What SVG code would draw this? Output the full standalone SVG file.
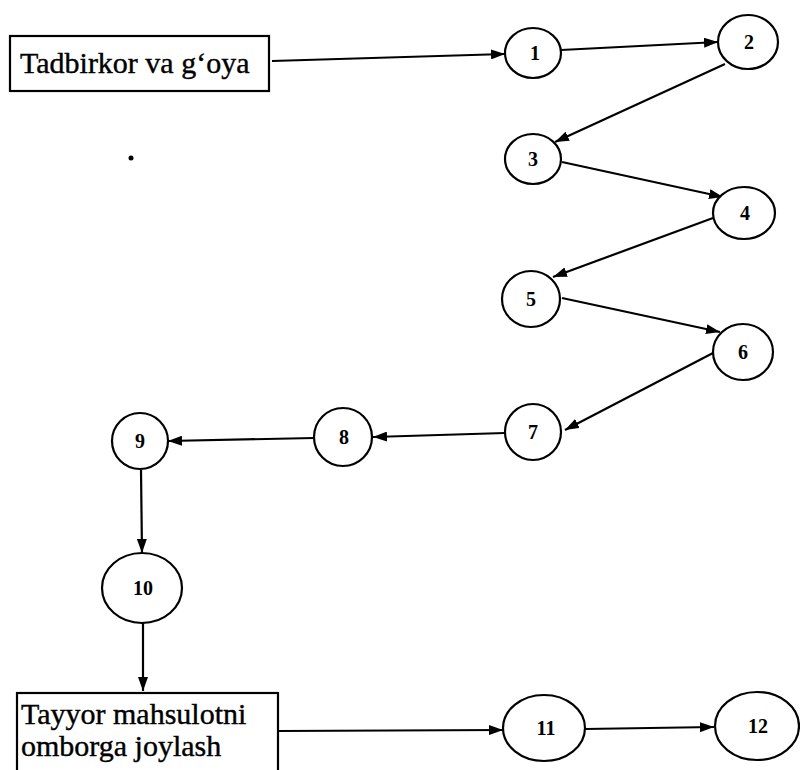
<svg xmlns="http://www.w3.org/2000/svg" width="800" height="770" viewBox="0 0 800 770">
<defs>
<marker id="arr" viewBox="0 0 14 10" refX="14" refY="5" markerWidth="14" markerHeight="10" markerUnits="userSpaceOnUse" orient="auto">
<path d="M0,0 L14,5 L0,10 z" fill="#000"/>
</marker>
<style>
.n ellipse{fill:#fff;stroke:#000;stroke-width:2.2}
.n text{font-family:"Liberation Serif","Times New Roman",serif;font-size:20px;font-weight:bold;text-anchor:middle;fill:#000}
.b rect{fill:#fff;stroke:#000;stroke-width:2.2}
.b text{font-family:"Liberation Serif","Times New Roman",serif;font-size:30px;fill:#000;stroke:#000;stroke-width:0.4}
#edges line{stroke:#000;stroke-width:2.2;marker-end:url(#arr)}
</style>
</defs>
<rect width="800" height="770" fill="#fff"/>
<circle cx="131" cy="158" r="2.5" fill="#000"/>
<g id="edges">
<line x1="272" y1="61" x2="505" y2="54"/>
<line x1="561" y1="50" x2="718" y2="42"/>
<line x1="725" y1="64" x2="555" y2="142"/>
<line x1="562" y1="162" x2="723" y2="197"/>
<line x1="713" y1="218" x2="553" y2="277"/>
<line x1="562" y1="298" x2="720" y2="332"/>
<line x1="713" y1="353" x2="565" y2="430"/>
<line x1="505" y1="433" x2="373" y2="437"/>
<line x1="314" y1="438" x2="168" y2="441"/>
<line x1="141" y1="470" x2="142" y2="553"/>
<line x1="143" y1="623" x2="143" y2="691"/>
<line x1="279" y1="731" x2="503" y2="730"/>
<line x1="585" y1="729" x2="714" y2="727"/>
</g>
<g id="box-idea" class="b"><rect x="10" y="36" width="259" height="55"/><text x="20" y="73">Tadbirkor va g‘oya</text></g>
<g id="box-store" class="b"><rect x="17" y="693" width="261" height="90"/><text x="21" y="724">Tayyor mahsulotni</text><text x="21" y="756">omborga joylash</text></g>
<g id="n1" class="n"><ellipse cx="533" cy="53" rx="28" ry="25"/><text x="535" y="60">1</text></g>
<g id="n2" class="n"><ellipse cx="748" cy="42" rx="30" ry="27"/><text x="749" y="49">2</text></g>
<g id="n3" class="n"><ellipse cx="533" cy="159" rx="28" ry="25"/><text x="533" y="166">3</text></g>
<g id="n4" class="n"><ellipse cx="744" cy="213" rx="31" ry="26"/><text x="745" y="220">4</text></g>
<g id="n5" class="n"><ellipse cx="531" cy="299" rx="29" ry="28"/><text x="531" y="306">5</text></g>
<g id="n6" class="n"><ellipse cx="743" cy="352" rx="30" ry="28"/><text x="743" y="359">6</text></g>
<g id="n7" class="n"><ellipse cx="533" cy="432" rx="28" ry="28"/><text x="533" y="439">7</text></g>
<g id="n8" class="n"><ellipse cx="343" cy="437" rx="29" ry="29"/><text x="344" y="444">8</text></g>
<g id="n9" class="n"><ellipse cx="140" cy="441" rx="28" ry="28"/><text x="140" y="448">9</text></g>
<g id="n10" class="n"><ellipse cx="142" cy="588" rx="40" ry="35"/><text x="143" y="595">10</text></g>
<g id="n11" class="n"><ellipse cx="544" cy="728" rx="41" ry="33"/><text x="546" y="735">11</text></g>
<g id="n12" class="n"><ellipse cx="757" cy="726" rx="42" ry="34"/><text x="758" y="733">12</text></g>
</svg>
